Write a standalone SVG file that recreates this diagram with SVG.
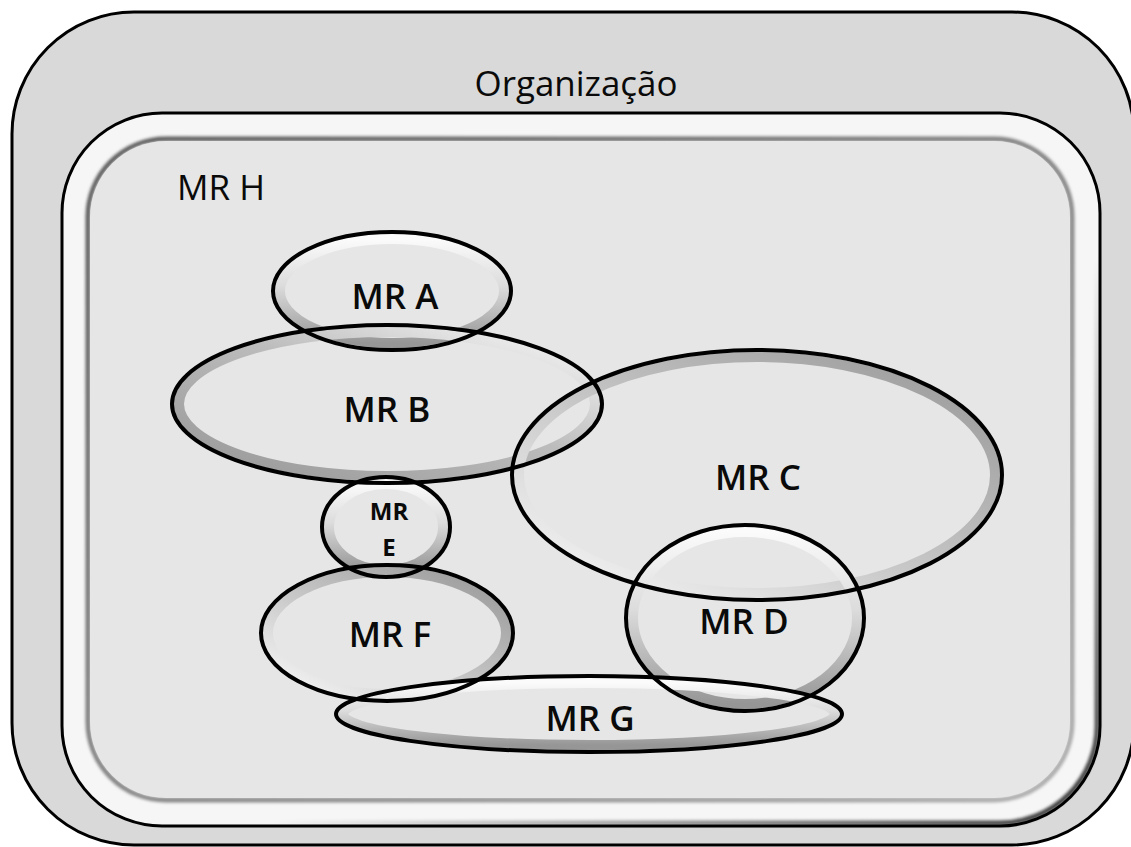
<svg xmlns="http://www.w3.org/2000/svg" width="1131" height="847" viewBox="0 0 1131 847">
<defs>
<linearGradient id="gTB" x1="0" y1="0" x2="0" y2="1"><stop offset="0" stop-color="#fbfbfb"/><stop offset="0.45" stop-color="#dcdcdc"/><stop offset="1" stop-color="#969696"/></linearGradient>
<linearGradient id="gBLw" x1="0" y1="1" x2="1" y2="0"><stop offset="0" stop-color="#fbfbfb"/><stop offset="0.45" stop-color="#c8c8c8"/><stop offset="1" stop-color="#969696"/></linearGradient>
<linearGradient id="gBLg" x1="0" y1="1" x2="1" y2="0"><stop offset="0" stop-color="#969696"/><stop offset="0.55" stop-color="#bcbcbc"/><stop offset="1" stop-color="#fbfbfb"/></linearGradient>
<linearGradient id="faceEdge" x1="0" y1="0" x2="1" y2="1"><stop offset="0" stop-color="#5a5a5a"/><stop offset="0.5" stop-color="#858585"/><stop offset="1" stop-color="#b0b0b0"/></linearGradient>
<linearGradient id="shade" x1="0" y1="0" x2="1" y2="1"><stop offset="0" stop-color="#000" stop-opacity="0"/><stop offset="0.6" stop-color="#000" stop-opacity="0"/><stop offset="1" stop-color="#000" stop-opacity="0.8"/></linearGradient>
<filter id="soft" x="-5%" y="-5%" width="110%" height="110%"><feGaussianBlur stdDeviation="1.6"/></filter>
</defs>
<style>
.ring{fill:none;stroke-width:10}
.line{fill:none;stroke:#000;stroke-width:4}
.lbl{font-family:"Open Sans","Noto Sans",sans-serif;font-size:35px;font-weight:600;fill:#0a0a0a;text-anchor:middle}
.sm{font-size:24px;font-weight:700}
</style>
<g id="organizacao">
<rect x="12" y="12" width="1122" height="833" rx="122" fill="#d9d9d9" stroke="#000" stroke-width="3"/>
<text class="lbl" x="576" y="96" textLength="203" lengthAdjust="spacingAndGlyphs" style="font-weight:500">Organização</text>
</g>
<g id="mr-h">
<rect x="62" y="113" width="1038" height="713" rx="100" fill="#f6f6f6" stroke="#000" stroke-width="3"/>
<rect x="65" y="116" width="1032" height="707" rx="97" fill="none" stroke="url(#shade)" stroke-width="5" filter="url(#soft)"/>
<rect x="88" y="139" width="984" height="661" rx="78" fill="#e6e6e6" stroke="url(#faceEdge)" stroke-width="5" filter="url(#soft)"/>
<rect x="90" y="141" width="980" height="657" rx="76" fill="#e6e6e6"/>
<text class="lbl" x="221" y="200" style="font-weight:500">MR H</text>
</g>
<g id="rings">
<ellipse class="ring" cx="392" cy="291" rx="112" ry="52" stroke="url(#gTB)"/>
<ellipse class="ring" cx="387" cy="404" rx="208" ry="72" stroke="url(#gBLg)"/>
<ellipse class="ring" cx="757" cy="475" rx="238" ry="118" stroke="url(#gBLw)"/>
<ellipse class="ring" cx="745" cy="618" rx="112" ry="86" stroke="url(#gTB)"/>
<ellipse class="ring" cx="386" cy="527" rx="57" ry="43" stroke="url(#gTB)"/>
<ellipse class="ring" cx="387" cy="633" rx="119" ry="61" stroke="url(#gBLw)"/>
<ellipse class="ring" cx="589" cy="714" rx="246" ry="31" stroke="url(#gTB)"/>
</g>
<g id="outlines">
<ellipse class="line" cx="392" cy="291" rx="119" ry="59"/>
<ellipse class="line" cx="387" cy="404" rx="215" ry="79"/>
<ellipse class="line" cx="757" cy="475" rx="245" ry="125"/>
<ellipse class="line" cx="745" cy="618" rx="119" ry="93"/>
<ellipse class="line" cx="386" cy="527" rx="64" ry="50"/>
<ellipse class="line" cx="387" cy="633" rx="126" ry="68"/>
<ellipse class="line" cx="589" cy="714" rx="253" ry="38"/>
</g>
<g id="mr-a"><text class="lbl" x="395" y="309">MR A</text></g>
<g id="mr-b"><text class="lbl" x="387" y="422">MR B</text></g>
<g id="mr-c"><text class="lbl" x="758" y="490">MR C</text></g>
<g id="mr-d"><text class="lbl" x="744" y="634">MR D</text></g>
<g id="mr-e"><text class="lbl sm" x="389" y="520">MR</text><text class="lbl sm" x="389" y="556">E</text></g>
<g id="mr-f"><text class="lbl" x="390" y="647">MR F</text></g>
<g id="mr-g"><text class="lbl" x="590" y="731">MR G</text></g>
</svg>
